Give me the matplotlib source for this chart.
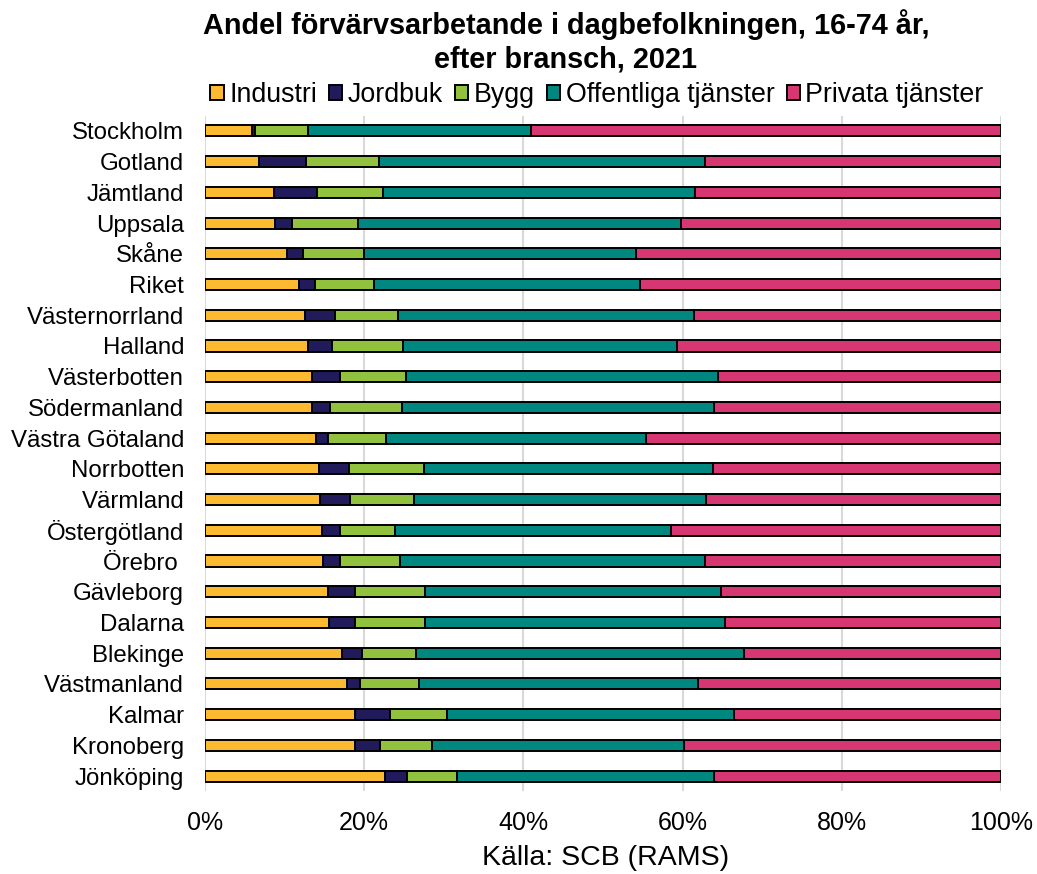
import matplotlib
matplotlib.use("Agg")
import matplotlib.pyplot as plt
import numpy as np

plt.rcParams['font.family'] = ['Liberation Sans', 'DejaVu Sans']

regions = ["Stockholm", "Gotland", "Jämtland", "Uppsala", "Skåne", "Riket",
           "Västernorrland", "Halland", "Västerbotten", "Södermanland",
           "Västra Götaland", "Norrbotten", "Värmland", "Östergötland",
           "Örebro ", "Gävleborg", "Dalarna", "Blekinge", "Västmanland",
           "Kalmar", "Kronoberg", "Jönköping"]

industri   = [5.9, 6.8, 8.7, 8.8, 10.3, 11.8, 12.6, 13.0, 13.4, 13.5, 13.9,
              14.3, 14.4, 14.7, 14.8, 15.4, 15.6, 17.2, 17.9, 18.8, 18.8, 22.6]
jordbruk   = [0.4, 5.9, 5.4, 2.1, 2.0, 2.0, 3.7, 2.9, 3.5, 2.2, 1.6,
              3.8, 3.8, 2.2, 2.1, 3.4, 3.3, 2.6, 1.6, 4.4, 3.2, 2.8]
bygg       = [6.6, 9.2, 8.2, 8.3, 7.7, 7.4, 7.9, 9.0, 8.3, 9.0, 7.3,
              9.5, 8.1, 7.0, 7.6, 8.8, 8.8, 6.7, 7.4, 7.2, 6.5, 6.2]
offentliga = [28.1, 40.8, 39.3, 40.6, 34.2, 33.4, 37.2, 34.4, 39.2, 39.2, 32.6,
              36.3, 36.7, 34.6, 38.3, 37.2, 37.6, 41.3, 35.0, 36.1, 31.6, 32.4]
privata    = [59.0, 37.2, 38.4, 40.2, 45.8, 45.3, 38.6, 40.7, 35.6, 36.1, 44.6,
              36.2, 37.1, 41.5, 37.2, 35.2, 34.7, 32.3, 38.1, 33.5, 39.8, 36.0]

series = [("Industri", industri, "#FBBA30"),
          ("Jordbuk", jordbruk, "#211B5B"),
          ("Bygg", bygg, "#92C13E"),
          ("Offentliga tjänster", offentliga, "#00877F"),
          ("Privata tjänster", privata, "#D63671")]

fig = plt.figure(figsize=(10.37, 8.74), dpi=100)
ax = fig.add_axes([205/1037, 1-791.4/874, 796/1037, (791.4-115.6)/874])

y = np.arange(len(regions))
data = np.array([s[1] for s in series], dtype=float)
totals = data.sum(axis=0)
shares = data / totals * 100
left = np.zeros(len(regions))
handles = []
for (name, _, color), vals in zip(series, shares):
    b = ax.barh(y, vals, left=left, height=0.36, color=color,
                edgecolor="black", linewidth=1.4, label=name, zorder=3)
    handles.append(b)
    left += vals

ax.set_ylim(len(regions) - 0.5, -0.5)
ax.set_xlim(0, 100)
ax.set_yticks(y)
ax.set_yticklabels(regions, fontsize=17.3)
ax.set_xticks(np.arange(0, 101, 20))
ax.set_xticklabels([f"{v}%" for v in range(0, 101, 20)], fontsize=18)
ax.tick_params(axis="both", length=0)
ax.tick_params(axis="y", pad=15)
ax.tick_params(axis="x", pad=14)
ax.grid(axis="x", color="#D9D9D9", linewidth=1.5, zorder=0)
for s in ax.spines.values():
    s.set_visible(False)

fig.text(566/1037, 1-25/874, "Andel förvärvsarbetande i dagbefolkningen, 16-74 år,",
         ha="center", va="center", fontsize=20.8, fontweight="bold")
fig.text(566/1037, 1-59/874, "efter bransch, 2021",
         ha="center", va="center", fontsize=20.8, fontweight="bold")

fig.legend(handles=handles, labels=[s[0] for s in series], loc="center",
           bbox_to_anchor=(597/1037, 1-95/874), ncol=5, frameon=False,
           fontsize=19.3, handlelength=0.5, handleheight=0.5,
           handletextpad=0.2, columnspacing=0.45, borderpad=0, borderaxespad=0)

fig.text(606/1037, 1-858/874, "Källa: SCB (RAMS)", ha="center", va="center",
         fontsize=20.5)

fig.savefig("out.png", dpi=100)
